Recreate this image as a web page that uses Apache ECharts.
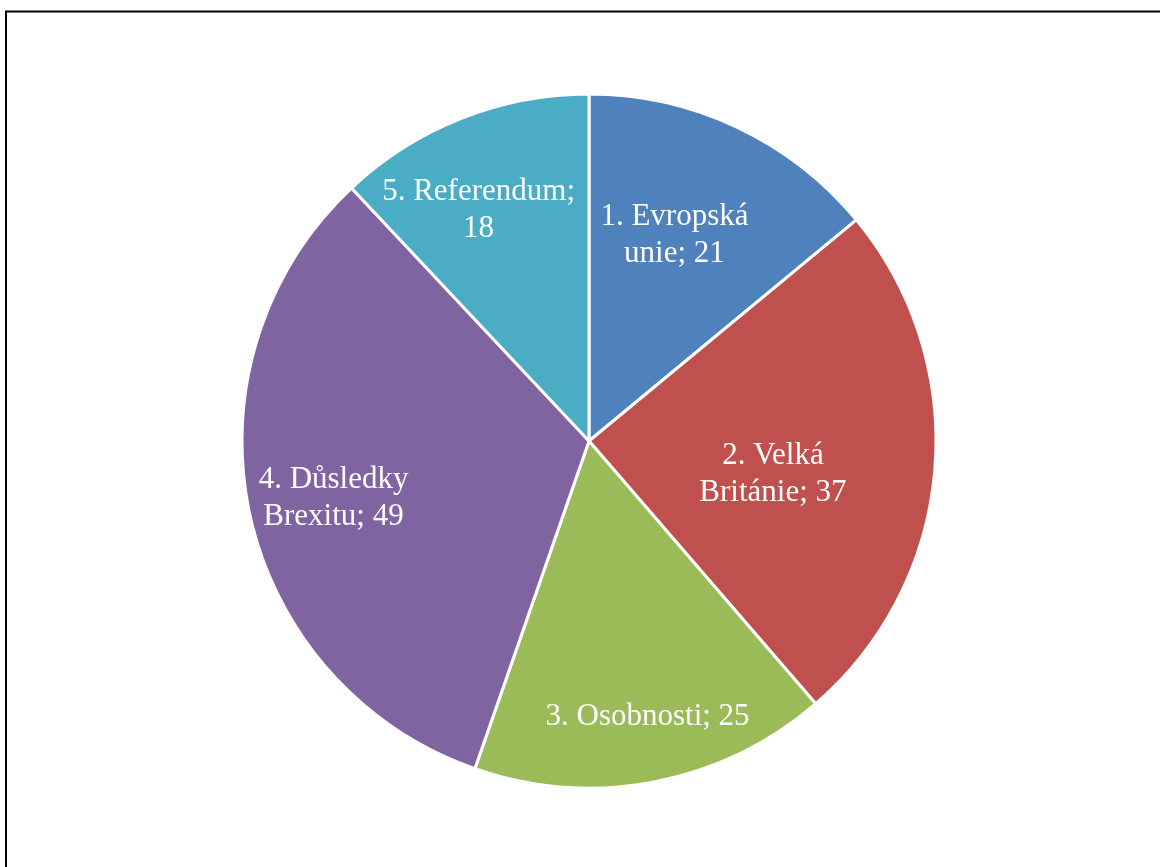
<!DOCTYPE html>
<html>
<head>
<meta charset="utf-8">
<script src="https://cdn.jsdelivr.net/npm/echarts@6/dist/echarts.min.js"></script>
<style>
html,body{margin:0;padding:0;background:#fff;}
#chart{width:1160px;height:867px;}
</style>
</head>
<body>
<div id="chart"></div>
<script>
const categories = ['1. Evropská\nunie', '2. Velká\nBritánie', '3. Osobnosti', '4. Důsledky\nBrexitu', '5. Referendum'];
const values = [21, 37, 25, 49, 18];
const valueSeparators = ['; ', '; ', '; ', '; ', ';\n'];
const colors = ['#4F81BD', '#C0504D', '#9BBB59', '#8064A2', '#4BACC6'];
// label placement styling: radial fraction and angular offset (deg) from slice middle
const labelRadiusFractions = [0.634, 0.53, 0.804, 0.746, 0.729];
const labelAngleOffsets = [-2.7, 5.5, -1.2, -0.7, -4.0];

const R = 347;
const total = values.reduce((a, b) => a + b, 0);
const midAngles = [];
let acc = 0;
values.forEach(v => { midAngles.push((acc + v / 2) / total * Math.PI * 2); acc += v; });

const chart = echarts.init(document.getElementById('chart'), null, {renderer: 'canvas'});
chart.setOption({
  animation: false,
  backgroundColor: '#ffffff',
  graphic: [{
    type: 'rect',
    shape: {x: 6, y: 11.5, width: 1300, height: 1000},
    style: {fill: 'none', stroke: '#000', lineWidth: 2},
    silent: true
  }],
  series: [{
    type: 'pie',
    center: [589, 441],
    radius: [0, R],
    startAngle: 90,
    clockwise: true,
    data: categories.map((c, i) => ({name: c, value: values[i], itemStyle: {color: colors[i]}})),
    itemStyle: {borderColor: '#fff', borderWidth: 3},
    label: {
      show: true,
      position: 'inside',
      color: '#fff',
      fontFamily: '"Liberation Serif", "Times New Roman", serif',
      fontSize: 31,
      lineHeight: 37,
      align: 'center',
      formatter: p => p.name + valueSeparators[p.dataIndex] + p.value
    },
    labelLine: {show: false},
    labelLayout: p => {
      const i = p.dataIndex;
      const a = midAngles[i] + labelAngleOffsets[i] * Math.PI / 180;
      const r = labelRadiusFractions[i] * R;
      const d = 0.5 * R;
      return {
        dx: r * Math.sin(a) - d * Math.sin(midAngles[i]),
        dy: -r * Math.cos(a) + d * Math.cos(midAngles[i])
      };
    }
  }]
});
</script>
</body>
</html>
